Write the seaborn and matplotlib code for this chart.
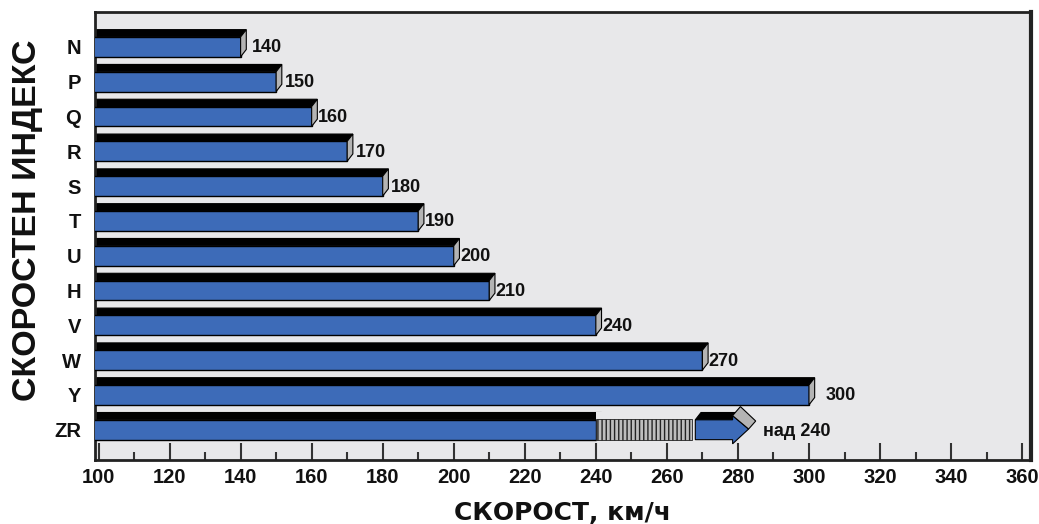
import matplotlib
matplotlib.use("Agg")
import matplotlib.pyplot as plt
import seaborn as sns
import numpy as np
import pandas as pd
from matplotlib.patches import Polygon, Rectangle
from matplotlib.ticker import MultipleLocator

# ---- data ----
categories = ['N', 'P', 'Q', 'R', 'S', 'T', 'U', 'H', 'V', 'W', 'Y', 'ZR']
speeds = [140, 150, 160, 170, 180, 190, 200, 210, 240, 270, 300, 240]
value_labels = ['140', '150', '160', '170', '180', '190', '200', '210', '240', '270', '300', 'над 240']
zr_hatch_end = 267
zr_arrow_start = 268
zr_arrow_end = 283
x_ticks = list(range(100, 361, 20))

BLUE = '#3d6bb8'
GRAY = '#b4b4b4'
BG = '#e8e8ea'

sns.set_style('white')
plt.rcParams['font.family'] = ['Liberation Sans', 'DejaVu Sans']

fig = plt.figure(figsize=(10.39, 5.24), dpi=100)
ax = fig.add_axes([0.0914, 0.1221, 0.9009, 0.8549])
ax.set_facecolor(BG)

df = pd.DataFrame({'cat': categories, 'speed': speeds})
H = 0.57  # front face height
sns.barplot(data=df, x='speed', y='cat', orient='h', color=BLUE, width=H,
            edgecolor='black', linewidth=1.0, saturation=1, ax=ax, zorder=3)

XMIN, XMAX = 99, 362.5
dx = 1.6      # depth shift in x (data units)
dy = 0.21     # depth shift in y (rows)

label_offsets = {140: 1.6, 150: 1.0, 160: 0.2, 170: 0.8, 180: 0.6, 190: 0.4,
                 200: 0.4, 210: 0.2, 240: 0.1, 270: 0.2, 300: 3.0}

for i, v in enumerate(speeds):
    top = i - H / 2
    bot = i + H / 2
    # top face (black)
    ax.add_patch(Polygon([(XMIN - 1, top), (v, top), (v + dx, top - dy), (XMIN + 0.5, top - dy)],
                         closed=True, facecolor='black', edgecolor='black', lw=0.8, zorder=2))
    if categories[i] != 'ZR':
        # side face (gray)
        ax.add_patch(Polygon([(v, top), (v + dx, top - dy), (v + dx, bot - dy), (v, bot)],
                             closed=True, facecolor=GRAY, edgecolor='black', lw=0.8, zorder=4))
        ax.text(v + dx + label_offsets[v], i + 0.03, value_labels[i], ha='left', va='center',
                fontsize=13, fontweight='bold', color='#111111', zorder=6)
    else:
        # hatched "spring" section
        ax.add_patch(Rectangle((v, top - 0.02), zr_hatch_end - v, H + 0.02,
                               facecolor='#bdbdbd', edgecolor='#222222', hatch='||||',
                               lw=0.6, zorder=4))
        # cover the black top over the hatch area
        ax.add_patch(Polygon([(v, top), (zr_hatch_end, top), (zr_hatch_end, top - dy - 0.02), (v, top - dy - 0.02)],
                             closed=True, facecolor=BG, edgecolor='none', zorder=3.5))
        # arrow segment: top face
        body_end = zr_arrow_end - 4.5
        ax.add_patch(Polygon([(zr_arrow_start, top), (body_end, top), (body_end + dx, top - dy),
                              (zr_arrow_start + dx, top - dy)],
                             closed=True, facecolor='black', edgecolor='black', lw=0.8, zorder=4))
        # arrow front (blue)
        ax.add_patch(Polygon([(zr_arrow_start, top), (body_end, top), (body_end, top - 0.12),
                              (zr_arrow_end, i - 0.02), (body_end, bot + 0.12), (body_end, bot),
                              (zr_arrow_start, bot)],
                             closed=True, facecolor=BLUE, edgecolor='black', lw=0.8, zorder=5))
        # gray bevel on arrow head
        ax.add_patch(Polygon([(body_end, top - 0.12), (body_end + 2.2, top - 0.38),
                              (zr_arrow_end + 2.0, i - 0.25), (zr_arrow_end, i - 0.02)],
                             closed=True, facecolor=GRAY, edgecolor='black', lw=0.8, zorder=5))
        ax.text(zr_arrow_end + 4.0, i + 0.05, value_labels[i], ha='left', va='center',
                fontsize=13, fontweight='bold', color='#111111', zorder=6)

ax.set_xlim(XMIN, XMAX)
ax.set_ylim(11.87, -1.0)
ax.set_xticks(x_ticks)
ax.xaxis.set_minor_locator(MultipleLocator(10))
ax.tick_params(axis='x', which='major', direction='in', length=12, width=1.5,
               color='#333333', labelsize=14.5, pad=6, bottom=True, top=False)
ax.tick_params(axis='x', which='minor', direction='in', length=6, width=1.5,
               color='#333333', bottom=True, top=False)
ax.tick_params(axis='y', length=0, labelsize=14.5, pad=10)
for lab in ax.get_xticklabels() + ax.get_yticklabels():
    lab.set_fontweight('bold')
    lab.set_color('#111111')

for s in ax.spines.values():
    s.set_visible(True)
    s.set_color('#222222')
    s.set_linewidth(2)
ax.spines['right'].set_linewidth(3)

ax.set_xlabel('СКОРОСТ, км/ч', fontsize=18, fontweight='bold', labelpad=10, color='#111111',
              family=['DejaVu Sans'])
ax.set_ylabel('СКОРОСТЕН ИНДЕКС', fontsize=24.5, fontweight='bold', color='#111111')
ax.yaxis.set_label_coords(-0.056, 0.535)

fig.savefig('out.png', dpi=100, facecolor='white')
